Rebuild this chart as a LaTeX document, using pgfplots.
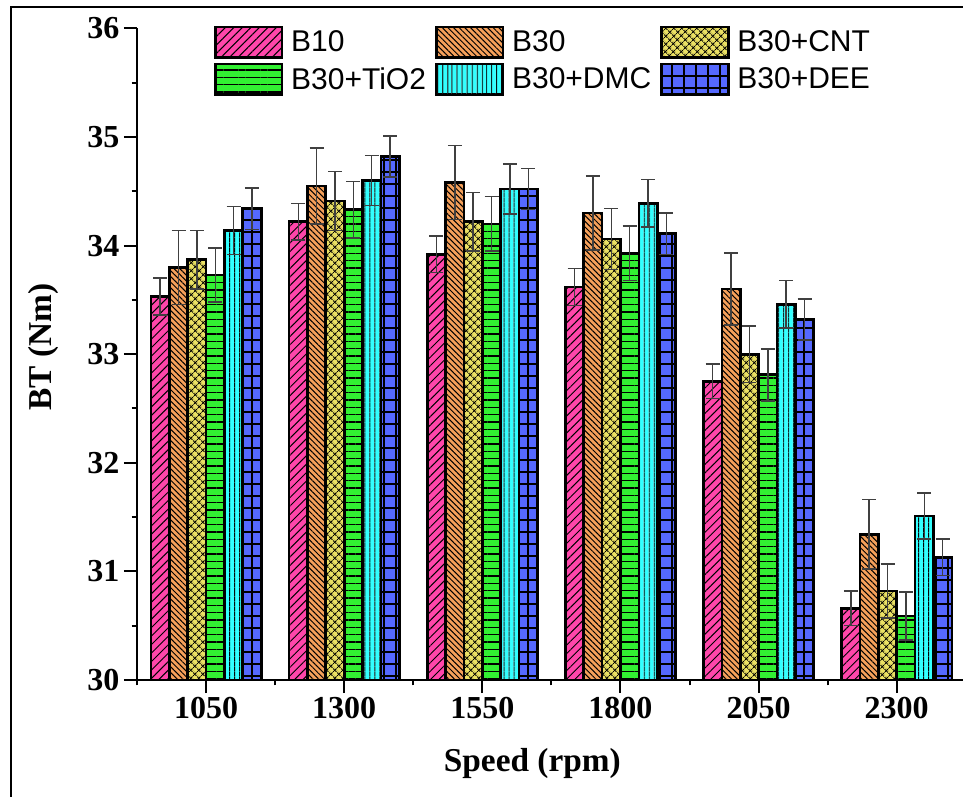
\documentclass[border=0pt]{standalone}
\usepackage{pgfplots}
\pgfplotsset{compat=1.18}
\usepackage{fontspec}
\setmainfont{Liberation Serif}
\newfontfamily\legfont{Liberation Sans}
\usetikzlibrary{patterns.meta}

\definecolor{cA}{RGB}{255,70,170}
\definecolor{cB}{RGB}{245,160,90}
\definecolor{cC}{RGB}{235,225,100}
\definecolor{cD}{RGB}{50,240,50}
\definecolor{cE}{RGB}{50,255,255}
\definecolor{cF}{RGB}{85,105,255}

\pgfplotsset{
  mybar/.style={draw=black, line width=2pt,
    error bars/y dir=both, error bars/y explicit,
    error bars/error bar style={line width=1.1pt, draw=black!75, fill=none, pattern=none},
    error bars/error mark options={rotate=90, mark size=5.25pt, line width=1.1pt, draw=black!75, fill=none}},
}

\begin{document}
\begin{tikzpicture}
\begin{axis}[
  at={(0pt,0pt)}, anchor=south west,
  x=103.6pt, y=81.45pt,
  xmin=-0.5, xmax=5.5, ymin=30, ymax=36,
  axis lines*=left,
  axis line style={line width=1.5pt},
  ybar, bar width=0.133,
  xtick={0,...,5}, xticklabels={1050,1300,1550,1800,2050,2300},
  minor xtick={-0.5,0.5,...,5.5},
  ytick={30,...,36}, minor ytick={30.5,31.5,...,35.5},
  tick align=outside,
  major tick length=9.75pt, minor tick length=4pt,
  every tick/.style={black, line width=1.5pt},
  tick label style={font=\fontsize{24}{24}\selectfont\bfseries},
  /pgf/number format/assume math mode=true,
  xlabel={Speed (rpm)}, ylabel={BT (Nm)},
  label style={font=\fontsize{25}{25}\selectfont\bfseries},
  xlabel style={at={(axis description cs:0.477,-0.1407)}, anchor=base},
  ylabel style={at={(axis description cs:-0.1029,0.511)}, anchor=base},
  legend columns=3,
  legend cell align=left,
  legend style={draw=none, fill=none, at={(axis description cs:0.093,1.004)}, anchor=north west,
    font=\legfont\fontsize{22.5}{22.5}\selectfont, inner sep=0pt, row sep=3pt,
    /tikz/every odd column/.append style={column sep=4pt},
    /tikz/every even column/.append style={column sep=5pt}},
  legend image code/.code={\draw[#1, line width=1.6pt] (0pt,-11.5pt) rectangle (50pt,11.5pt);},
]
\addplot[preaction={fill=cA}, pattern={Lines[angle=45,distance=4.5pt,line width=0.75pt]}, bar shift=-0.3325, mybar]
 coordinates {(0,33.53) +- (0,0.17) (1,34.22) +- (0,0.17) (2,33.92) +- (0,0.17) (3,33.62) +- (0,0.17) (4,32.75) +- (0,0.16) (5,30.66) +- (0,0.16)};
\addplot[preaction={fill=cB}, pattern={Lines[angle=-45,distance=3pt,line width=0.75pt]}, bar shift=-0.1995, mybar]
 coordinates {(0,33.80) +- (0,0.34) (1,34.55) +- (0,0.35) (2,34.58) +- (0,0.34) (3,34.30) +- (0,0.34) (4,33.60) +- (0,0.33) (5,31.34) +- (0,0.32)};
\addplot[preaction={fill=cC}, pattern={Hatch[angle=45,distance=4pt,line width=0.75pt]}, bar shift=-0.0665, mybar]
 coordinates {(0,33.87) +- (0,0.27) (1,34.41) +- (0,0.27) (2,34.22) +- (0,0.27) (3,34.06) +- (0,0.28) (4,33.00) +- (0,0.26) (5,30.82) +- (0,0.25)};
\addplot[preaction={fill=cD}, pattern={Lines[angle=0,distance=5.5pt,line width=1.1pt]}, bar shift=0.0665, mybar]
 coordinates {(0,33.73) +- (0,0.25) (1,34.33) +- (0,0.26) (2,34.20) +- (0,0.25) (3,33.93) +- (0,0.25) (4,32.81) +- (0,0.24) (5,30.59) +- (0,0.22)};
\addplot[preaction={fill=cE}, pattern={Lines[angle=90,distance=4pt,line width=0.8pt]}, bar shift=0.1995, mybar]
 coordinates {(0,34.14) +- (0,0.22) (1,34.60) +- (0,0.23) (2,34.52) +- (0,0.23) (3,34.39) +- (0,0.22) (4,33.46) +- (0,0.22) (5,31.51) +- (0,0.21)};
\addplot[preaction={fill=cF}, pattern={Hatch[angle=0,distance=9pt,line width=0.9pt]}, bar shift=0.3325, mybar]
 coordinates {(0,34.34) +- (0,0.19) (1,34.82) +- (0,0.19) (2,34.52) +- (0,0.19) (3,34.11) +- (0,0.19) (4,33.32) +- (0,0.19) (5,31.13) +- (0,0.17)};
\legend{B10,B30,B30+CNT,B30+TiO2,B30+DMC,B30+DEE}
\end{axis}
\draw[line width=1.5pt] (-94.5pt,-120pt) rectangle (640pt,504.75pt);
\pgfresetboundingbox
\useasboundingbox (-102.75pt,-87pt) rectangle (619.5pt,510pt);
\end{tikzpicture}
\end{document}
